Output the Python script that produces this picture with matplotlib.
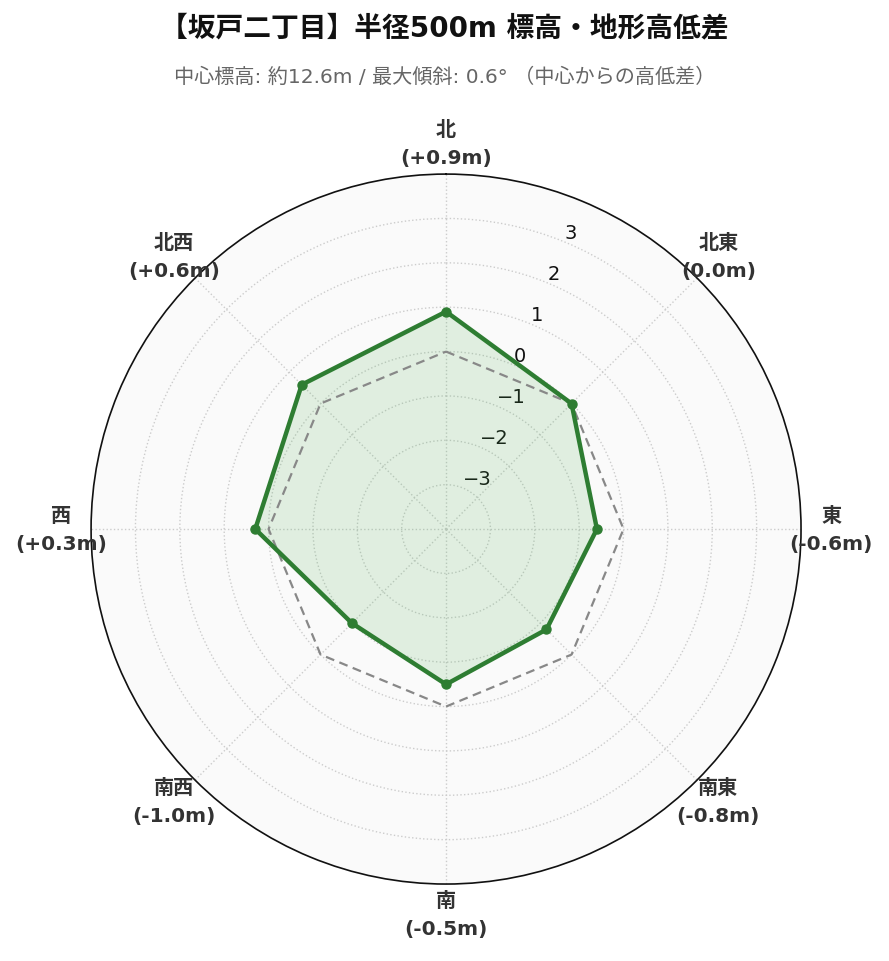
import numpy as np
import matplotlib
matplotlib.use("Agg")
import matplotlib.pyplot as plt

plt.rcParams['font.family'] = ['DejaVu Sans', 'Noto Sans CJK JP']

directions = ["北", "北東", "東", "南東", "南", "南西", "西", "北西"]
diffs = [0.9, 0.0, -0.6, -0.8, -0.5, -1.0, 0.3, 0.6]
baseline = [0, 0, 0, 0, 0, 0, 0, 0]
rticks = [-3, -2, -1, 0, 1, 2, 3]
title = "【坂戸二丁目】半径500m 標高・地形高低差"
subtitle = "中心標高: 約12.6m / 最大傾斜: 0.6° （中心からの高低差）"

fig = plt.figure(figsize=(8.89, 9.62), dpi=100)
ax = fig.add_axes([0.1024, 0.080, 0.7987, 0.738], projection='polar')
ax.set_theta_zero_location('N')
ax.set_theta_direction(-1)
ax.set_facecolor('#fafafa')

n = len(directions)
theta = np.linspace(0, 2 * np.pi, n, endpoint=False)
th_c = np.concatenate([theta, theta[:1]])
d_c = np.array(diffs + diffs[:1])
b_c = np.array(baseline + baseline[:1])

ax.plot(th_c, b_c, color='#888888', lw=1.6, ls=(0, (4, 2.5)), zorder=3)
ax.fill(th_c, d_c, color='#4caf50', alpha=0.15, zorder=2, lw=0)
ax.plot(th_c, d_c, color='#2e7d32', lw=3.2, zorder=4)
ax.plot(theta, diffs, 'o', color='#2e7d32', ms=6.5, zorder=5)

ax.set_ylim(-4, 4)
ax.set_yticks(rticks)
ax.set_yticklabels([f"{t}".replace('-', '\u2212') for t in rticks],
                   fontsize=14, color='#111111')
ax.set_rlabel_position(22.5)
ax.set_xticks(theta)
ax.set_xticklabels([])
ax.grid(True, color='#cccccc', ls=':', lw=1.0)
ax.spines['polar'].set_color('#111111')
ax.spines['polar'].set_linewidth(1.2)

for t, name, v in zip(theta, directions, diffs):
    lab = f"{name}\n({v:+.1f}m)" if v != 0 else f"{name}\n(0.0m)"
    ax.text(t, 4.68, lab, ha='center', va='center', fontsize=14.5,
            fontweight='bold', color='#333333', linespacing=1.6,
            clip_on=False)

fig.text(0.5, 0.970, title, ha='center', va='center', fontsize=20,
         fontweight='bold', color='#111111')
fig.text(0.5, 0.920, subtitle, ha='center', va='center', fontsize=14.5,
         color='#666666')

fig.savefig('out.png', dpi=100, facecolor='white')
